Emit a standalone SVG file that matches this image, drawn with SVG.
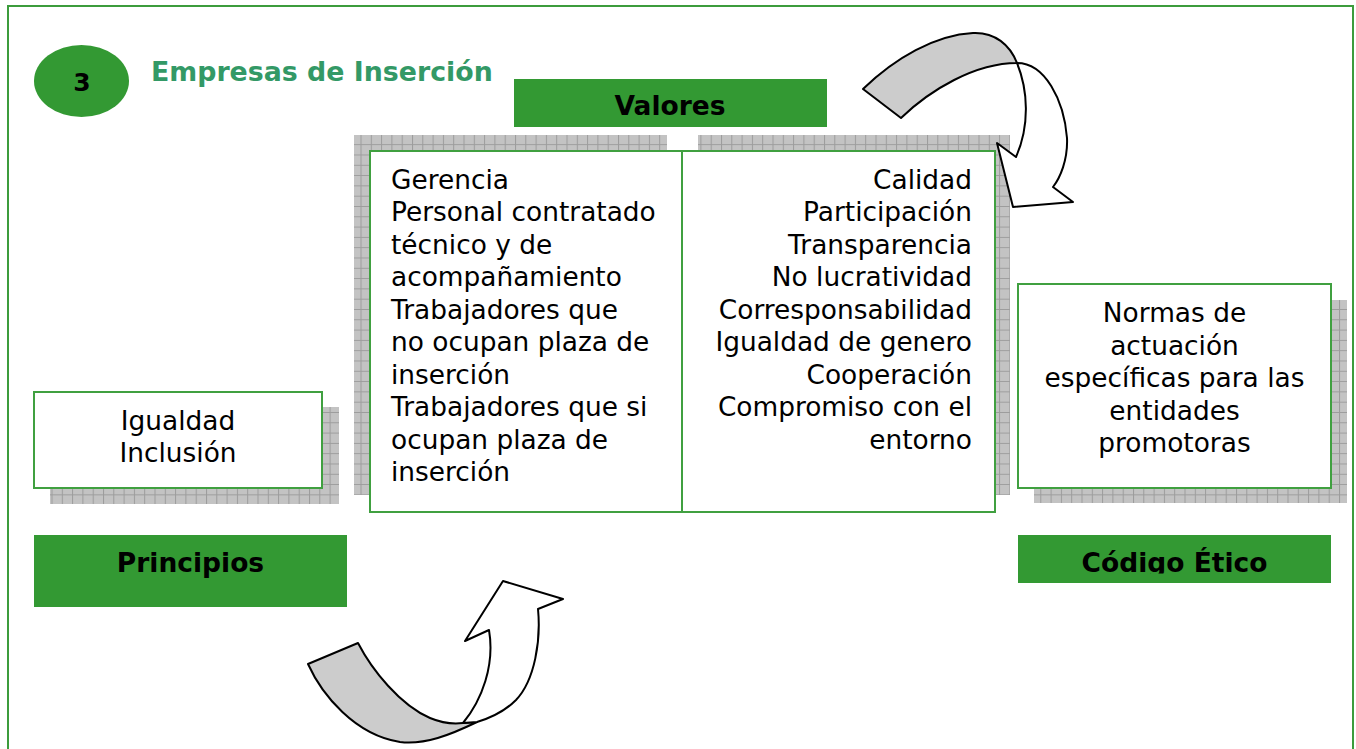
<svg xmlns="http://www.w3.org/2000/svg" width="1356" height="749" viewBox="0 0 1356 749">
<style>
.txt{font-family:"DejaVu Sans","Verdana",sans-serif;font-size:26.4px;fill:#000}
.r{text-anchor:end}
.c{text-anchor:middle}
.bold{font-family:"DejaVu Sans","Verdana",sans-serif;font-size:26.5px;font-weight:bold;fill:#000}
.box{fill:#fff;stroke:#40a040;stroke-width:2}
.bar{fill:#339933}
.shadow{fill:url(#grid)}
.arrow{stroke:#000;stroke-width:2;stroke-linejoin:round}
</style>
<defs>
<pattern id="grid" patternUnits="userSpaceOnUse" width="10.3" height="10.3">
<rect width="10.3" height="10.3" fill="#c3c3c3"/>
<path d="M0 0.5H10.3M0.5 0V10.3" stroke="#9c9c9c" stroke-width="1"/>
</pattern>
<clipPath id="clipCE"><rect x="1018" y="535" width="313" height="38.5"/></clipPath>
</defs>
<rect width="1356" height="749" fill="#fff"/>
<rect x="8" y="6" width="1345" height="800" fill="none" stroke="#3c9c3c" stroke-width="2"/>

<g id="header">
<ellipse cx="81.5" cy="81" rx="47.5" ry="36" fill="#339933"/>
<text x="82" y="91" class="bold c" style="font-size:25px">3</text>
<text x="151" y="81" class="bold" style="fill:#339966;font-size:26.8px">Empresas de Inserción</text>
</g>

<g id="valores">
<rect class="bar" x="514" y="79" width="313" height="48"/>
<text class="bold c" x="670" y="115">Valores</text>
</g>

<g id="center-left">
<rect class="shadow" x="354" y="135" width="313" height="360"/>
<rect class="box" x="370" y="151" width="312" height="361"/>
<text class="txt" x="391" y="188.5">Gerencia</text>
<text class="txt" x="391" y="221">Personal contratado</text>
<text class="txt" x="391" y="253.5">técnico y de</text>
<text class="txt" x="391" y="286">acompañamiento</text>
<text class="txt" x="391" y="318.5">Trabajadores que</text>
<text class="txt" x="391" y="351">no ocupan plaza de</text>
<text class="txt" x="391" y="383.5">inserción</text>
<text class="txt" x="391" y="416">Trabajadores que si</text>
<text class="txt" x="391" y="448.5">ocupan plaza de</text>
<text class="txt" x="391" y="481">inserción</text>
</g>

<g id="center-right">
<rect class="shadow" x="698" y="135" width="312" height="360"/>
<rect class="box" x="682" y="151" width="313" height="361"/>
<text class="txt r" x="972" y="188.5">Calidad</text>
<text class="txt r" x="972" y="221">Participación</text>
<text class="txt r" x="972" y="253.5">Transparencia</text>
<text class="txt r" x="972" y="286">No lucratividad</text>
<text class="txt r" x="972" y="318.5">Corresponsabilidad</text>
<text class="txt r" x="972" y="351">Igualdad de genero</text>
<text class="txt r" x="972" y="383.5">Cooperación</text>
<text class="txt r" x="972" y="416">Compromiso con el</text>
<text class="txt r" x="972" y="448.5">entorno</text>
</g>

<g id="principios-box">
<rect class="shadow" x="50" y="407" width="289" height="97"/>
<rect class="box" x="34" y="392" width="288" height="96"/>
<text class="txt c" x="178" y="429.5">Igualdad</text>
<text class="txt c" x="178" y="462">Inclusión</text>
</g>

<g id="principios">
<rect class="bar" x="34" y="535" width="313" height="72"/>
<text class="bold c" x="190.5" y="572">Principios</text>
</g>

<g id="normas-box">
<rect class="shadow" x="1034" y="300" width="313" height="203"/>
<rect class="box" x="1018" y="284" width="313" height="204"/>
<text class="txt c" x="1174.5" y="322">Normas de</text>
<text class="txt c" x="1174.5" y="354.5">actuación</text>
<text class="txt c" x="1174.5" y="387">específicas para las</text>
<text class="txt c" x="1174.5" y="419.5">entidades</text>
<text class="txt c" x="1174.5" y="452">promotoras</text>
</g>

<g id="codigo-etico">
<rect class="bar" x="1018" y="535" width="313" height="48"/>
<text class="bold c" x="1174.5" y="572" clip-path="url(#clipCE)">Código Ético</text>
</g>

<g id="connectors">
<g id="arrow-top">
<path class="arrow" fill="#cccccc" d="M863 89 C895 58 935 35 973 33 C995 32 1010 45 1017 63 C975 63 930 90 901 118 Z"/>
<path class="arrow" fill="#ffffff" d="M1017 63 C1028 90 1030 125 1016 157 L997 143 L1013 207 L1073 202 L1053 187 C1060 178 1068 160 1067 138 C1064 100 1045 63 1017 63 Z"/>
</g>
<g id="arrow-bottom">
<path class="arrow" fill="#cccccc" d="M308 664 C322 695 355 735 400 742 C425 745 450 735 477 722 L463 723 C455 724 442 723 430 718 C400 705 372 670 358 643 Z"/>
<path class="arrow" fill="#ffffff" d="M463 723 C482 700 495 665 489 630 L465 641 L503 581 L563 599 L538 609 C541 640 535 680 516 700 C505 711 490 718 477 722 Z"/>
</g>
</g>
</svg>
